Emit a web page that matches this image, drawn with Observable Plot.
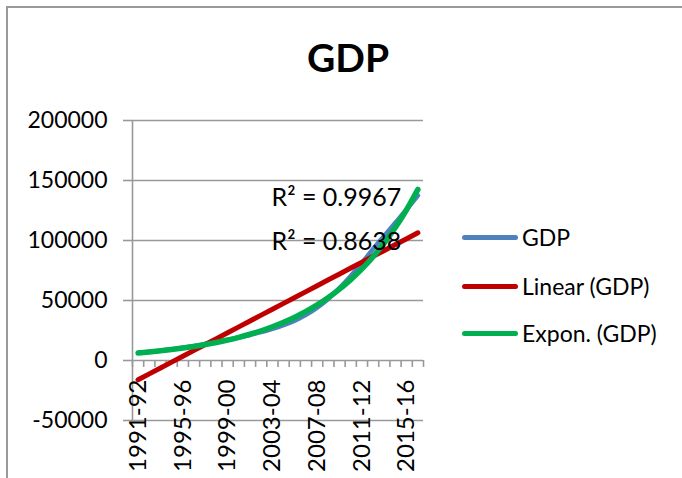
<!DOCTYPE html>
<html>
<head>
<meta charset="utf-8">
<script src="https://cdn.jsdelivr.net/npm/d3@7"></script>
<script src="https://cdn.jsdelivr.net/npm/@observablehq/plot@0.6"></script>
<style>
  html, body { margin: 0; padding: 0; background: #fff; }
  #wrap { position: relative; width: 682px; height: 478px; overflow: hidden; background: #fff; font-family: Lato, "Open Sans", sans-serif; }
  #frame { position: absolute; left: 6px; top: 6px; width: 800px; height: 600px; border-left: 2px solid #999; border-top: 2px solid #999; }
  #title { position: absolute; top: 38px; left: 348px; transform: translateX(-50%); font-size: 39px; line-height: 39px; font-weight: 700; color: #000; white-space: nowrap; }
  #chart { position: absolute; left: 0; top: 100px; }
  #legend { position: absolute; left: 462px; top: 0; }
  .item { position: absolute; left: 0; height: 24px; display: flex; align-items: center; white-space: nowrap; font-size: 23px; line-height: 24px; color: #000; }
  .sw { width: 56px; height: 5px; border-radius: 3px; margin-right: 4px; }
  svg [aria-label^="y-axis"] path, svg [aria-label^="y-axis"] line { stroke: #999; stroke-width: 1.6px; }
</style>
</head>
<body>
<div id="wrap">
  <div id="frame"></div>
  <div id="title"></div>
  <div id="chart"></div>
  <div id="legend"></div>
</div>
<script>
// ---- data ----
const categories = ["1991-92","1992-93","1993-94","1994-95","1995-96","1996-97","1997-98","1998-99",
  "1999-00","2000-01","2001-02","2002-03","2003-04","2004-05","2005-06","2006-07","2007-08","2008-09",
  "2009-10","2010-11","2011-12","2012-13","2013-14","2014-15","2015-16","2016-17"];
const gdp = [6400, 7200, 8200, 9300, 10600, 12100, 13700, 15300, 17200, 19200, 21300, 23600, 26400,
  29500, 33200, 38000, 44000, 51500, 60500, 70500, 81500, 93000, 104000, 115000, 126000, 137500];
const tickLabels = ["1991-92","1995-96","1999-00","2003-04","2007-08","2011-12","2015-16"];
const yTicks = [-50000, 0, 50000, 100000, 150000, 200000];
const seriesNames = ["GDP", "Linear (GDP)", "Expon. (GDP)"];
const seriesColors = ["#4F81BD", "#C00000", "#00B050"];
const r2Labels = ["R² = 0.9967", "R² = 0.8638"];
const titleText = "GDP";

// ---- trendlines (least squares, as the spreadsheet computes them) ----
const idx = gdp.map((_, i) => i);
const n = gdp.length;
const mx = d3.mean(idx);
const sxx = d3.sum(idx, i => (i - mx) ** 2);
const my = d3.mean(gdp);
const slope = d3.sum(idx, i => (i - mx) * (gdp[i] - my)) / sxx;
const icpt = my - slope * mx;
const linear = idx.map(i => ({i, v: icpt + slope * i}));
const lg = gdp.map(Math.log);
const ml = d3.mean(lg);
const b = d3.sum(idx, i => (i - mx) * (lg[i] - ml)) / sxx;
const a = ml - b * mx;
const expon = idx.map(i => ({i, v: Math.exp(a + b * i)}));
const gdpRows = gdp.map((v, i) => ({i, v}));
const tickRows = tickLabels.map(t => ({i: categories.indexOf(t), t}));
const bounds = d3.range(n + 1).map(k => k - 0.5);

document.getElementById("title").textContent = titleText;

const chart = Plot.plot({
  width: 682,
  height: 378,
  marginLeft: 132,
  marginRight: 259,
  marginTop: 20,
  marginBottom: 58,
  style: {fontFamily: "Lato, 'Open Sans', sans-serif", fontSize: "23px", color: "#000", background: "transparent", overflow: "visible"},
  x: {type: "linear", domain: [-0.5, n - 0.5], axis: null},
  y: {domain: [-50000, 200000], ticks: yTicks, tickSize: 9, tickPadding: 16, tickFormat: d => String(d), label: null},
  marks: [
    Plot.ruleY(yTicks, {stroke: "#999", strokeWidth: 1.6}),
    Plot.ruleX([-0.5], {stroke: "#999", strokeWidth: 1.6}),
    Plot.ruleX(bounds, {x: d => d, y: -5800, stroke: "#999", strokeWidth: 1.6}),
    Plot.text(tickRows, {x: "i", y: 0, text: "t", rotate: -90, textAnchor: "end", dy: 19, fill: "#000", fontSize: 24}),
    Plot.line(gdpRows, {x: "i", y: "v", stroke: seriesColors[0], strokeWidth: 4.5, curve: "monotone-x", strokeLinecap: "round"}),
    Plot.line(linear, {x: "i", y: "v", stroke: seriesColors[1], strokeWidth: 5, strokeLinecap: "round"}),
    Plot.line(expon, {x: "i", y: "v", stroke: seriesColors[2], strokeWidth: 5.5, curve: "natural", strokeLinecap: "round"}),
    Plot.text([r2Labels[0]], {frameAnchor: "top-left", text: d => d, textAnchor: "start", dx: 139, dy: 68, fill: "#000", fontSize: 25}),
    Plot.text([r2Labels[1]], {frameAnchor: "top-left", text: d => d, textAnchor: "start", dx: 139, dy: 112, fill: "#000", fontSize: 25})
  ]
});
document.getElementById("chart").appendChild(chart);

// ---- legend ----
const legendY = [237, 286, 333];
const legend = document.getElementById("legend");
seriesNames.forEach((name, k) => {
  const item = document.createElement("div");
  item.className = "item";
  item.style.top = (legendY[k] - 12) + "px";
  const sw = document.createElement("div");
  sw.className = "sw";
  sw.style.background = seriesColors[k];
  const lbl = document.createElement("span");
  lbl.textContent = name;
  item.appendChild(sw);
  item.appendChild(lbl);
  legend.appendChild(item);
});
</script>
</body>
</html>
